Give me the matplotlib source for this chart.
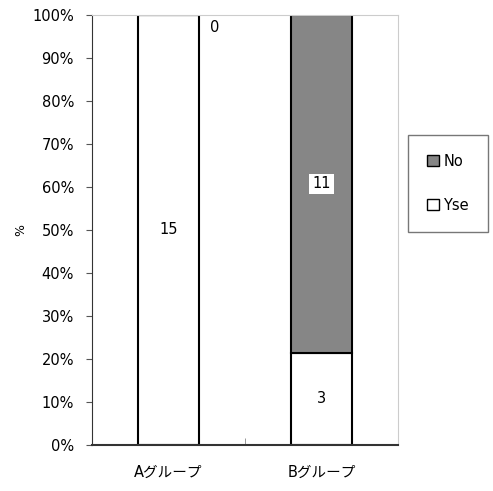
import matplotlib
matplotlib.use("Agg")
import matplotlib.pyplot as plt
from matplotlib.patches import Patch

plt.rcParams['font.family'] = ['DejaVu Sans', 'Noto Sans CJK JP']

# データ
groups = ["Aグループ", "Bグループ"]
yes_counts = [15, 3]
no_counts = [0, 11]
tick_labels = ["0%", "10%", "20%", "30%", "40%", "50%", "60%", "70%", "80%", "90%", "100%"]

totals = [y + n for y, n in zip(yes_counts, no_counts)]
yes_pct = [y / t * 100 for y, t in zip(yes_counts, totals)]
no_pct = [n / t * 100 for n, t in zip(no_counts, totals)]

fig = plt.figure(figsize=(4.93, 4.91), dpi=100)
ax = fig.add_axes([0.1866, 0.0937, 0.6207, 0.8758])

x = [0, 1]
w = 0.4
ax.bar(x, yes_pct, width=w, color="white", edgecolor="black", linewidth=1.5)
ax.bar(x, no_pct, width=w, bottom=yes_pct, color="#868686", edgecolor="black", linewidth=1.5)

# ラベル
for i in x:
    ax.text(i, yes_pct[i] / 2, str(yes_counts[i]), ha="center", va="center", fontsize=10.5)
    if no_counts[i] > 0:
        ax.text(i, yes_pct[i] + no_pct[i] / 2, str(no_counts[i]), ha="center", va="center",
                fontsize=10.5, bbox=dict(facecolor="white", edgecolor="none", pad=2))
    else:
        ax.text(i + 0.3, 97, str(no_counts[i]), ha="center", va="center", fontsize=10.5)

ax.set_xlim(-0.5, 1.5)
ax.set_ylim(0, 100)
ax.set_yticks(range(0, 101, 10))
ax.set_yticklabels(tick_labels, fontsize=10.5)
ax.set_xticks(x)
ax.set_xticklabels(groups, fontsize=10.5)
ax.tick_params(axis="x", length=0, pad=14)
ax.set_xticks([0.5], minor=True)
ax.tick_params(axis="x", which="minor", direction="in", length=5, color="#888888")
ax.tick_params(axis="y", direction="out", length=4, color="#555555", pad=9)
ax.set_ylabel("%", fontsize=9)
ax.yaxis.set_label_coords(-0.21, 0.5)

for s in ["left", "bottom"]:
    ax.spines[s].set_color("#333333")
ax.spines["bottom"].set_linewidth(1.5)
for s in ["top", "right"]:
    ax.spines[s].set_color("#cccccc")

handles = [Patch(facecolor="#868686", edgecolor="black", label="No"),
           Patch(facecolor="white", edgecolor="black", label="Yse")]
fig.legend(handles=handles, loc="center left", bbox_to_anchor=(0.828, 0.627),
           frameon=True, fancybox=False, edgecolor="#555555", fontsize=10.5,
           handlelength=0.8, handleheight=0.8, handletextpad=0.3, labelspacing=2.0,
           borderpad=1.3, borderaxespad=0)

fig.savefig("out.png", dpi=100)
